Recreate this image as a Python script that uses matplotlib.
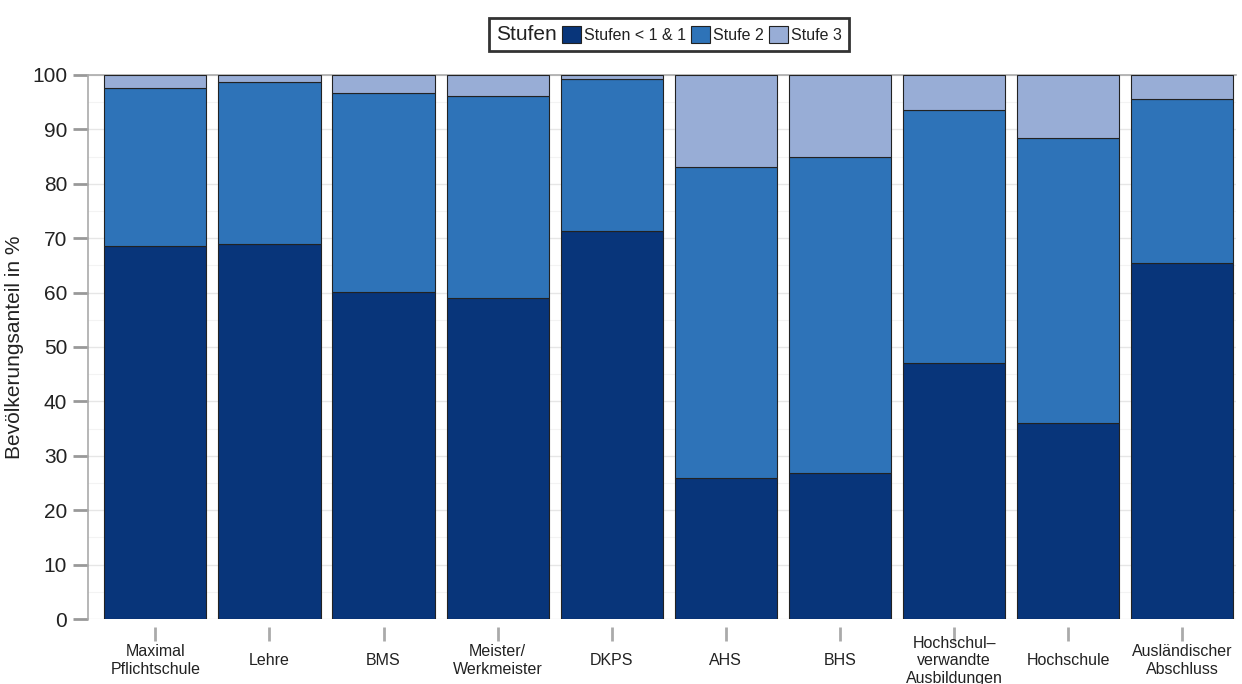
import numpy as np
import matplotlib.pyplot as plt
from matplotlib.patches import Patch

plt.rcParams['font.family'] = ['Liberation Sans', 'DejaVu Sans']

# Data
categories = ['Maximal\nPflichtschule', 'Lehre', 'BMS', 'Meister/\nWerkmeister', 'DKPS',
              'AHS', 'BHS', 'Hochschul–\nverwandte\nAusbildungen', 'Hochschule',
              'Ausländischer\nAbschluss']
stufe_1 = [68.6, 68.9, 60.1, 59.0, 71.3, 26.0, 26.8, 47.1, 36.0, 65.5]
stufe_2 = [29.0, 29.8, 36.6, 37.1, 28.0, 57.1, 58.1, 46.5, 52.4, 30.1]
stufe_3 = [100 - a - b for a, b in zip(stufe_1, stufe_2)]
labels = ['Stufen < 1 & 1', 'Stufe 2', 'Stufe 3']
colors = ['#08357a', '#2e73b8', '#98add6']

fig = plt.figure(figsize=(12.42, 6.84), dpi=100)
ax = fig.add_axes([88 / 1242, 0.095, 1148 / 1242, 0.7954])

x = np.arange(len(categories))
bottom = np.zeros(len(categories))
for vals, col in zip([stufe_1, stufe_2, stufe_3], colors):
    ax.bar(x, vals, width=0.895, bottom=bottom, color=col, edgecolor='#222222',
           linewidth=0.8, zorder=3)
    bottom += np.array(vals)

# spines first: set_position resets the ticks
ax.spines['bottom'].set_position(('outward', 6))
ax.spines['bottom'].set_visible(False)
ax.spines['right'].set_visible(False)
for s in ['left', 'top']:
    ax.spines[s].set_color('#aaaaaa')
    ax.spines[s].set_linewidth(1.2)

ax.set_xlim(-0.59, 9.47)
ax.set_ylim(0, 100)
ax.set_yticks(np.arange(0, 101, 10))
ax.set_yticks(np.arange(5, 100, 10), minor=True)
ax.grid(axis='y', which='major', color='#e6e6e6', linewidth=1, zorder=0)
ax.grid(axis='y', which='minor', color='#f3f3f3', linewidth=0.8, zorder=0)
ax.tick_params(axis='y', labelsize=15, colors='#222222', length=11, width=2,
               color='#999999', pad=4, which='major')
ax.tick_params(axis='y', which='minor', length=0)
ax.tick_params(axis='x', length=10, width=2, color='#aaaaaa', pad=14)
ax.set_xticks(x)
ax.set_xticklabels(categories, fontsize=11.5, color='#222222', linespacing=1.2,
                   va='center')
ax.set_ylabel('Bevölkerungsanteil in %', fontsize=15, color='#222222', labelpad=6)

# legend: first entry is an empty handle carrying the "Stufen" title
handles = [Patch(facecolor='none', edgecolor='none')]
handles += [Patch(facecolor=c, edgecolor='#222222', linewidth=0.8) for c in colors]
leg = fig.legend(handles, ['Stufen'] + labels, ncol=4, loc='center',
                 bbox_to_anchor=(669 / 1242, 0.950), fontsize=11.5, frameon=True,
                 fancybox=False, edgecolor='black', handlelength=1.2, handleheight=1.3,
                 handletextpad=0.2, columnspacing=0.3, borderpad=0.45)
leg.get_frame().set_linewidth(2)
leg.get_texts()[0].set_fontsize(15)
for t in leg.get_texts():
    t.set_color('#222222')
# drop the empty handle's width so "Stufen" sits at the left edge
first = leg._legend_handle_box.get_children()[0].get_children()[0]
first.get_children()[0].width = 0
first.sep = 0

fig.savefig('out.png', dpi=100)
